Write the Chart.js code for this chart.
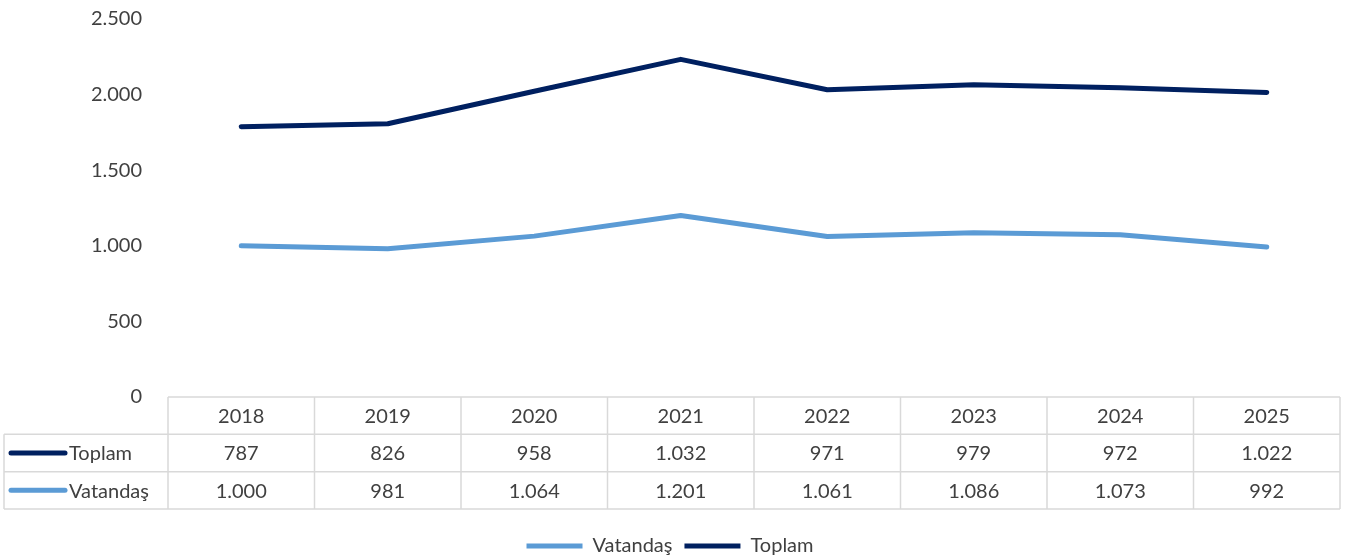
<!DOCTYPE html>
<html>
<head>
<meta charset="utf-8">
<script src="https://cdn.jsdelivr.net/npm/chart.js@4"></script>
<style>
    html, body { margin: 0; padding: 0; background: #fff; }
    #wrap { width: 1357px; height: 556px; position: relative; }
</style>
</head>
<body>
<div id="wrap"><canvas id="lineChart"></canvas></div>
<script>
// Chart data
const years = ['2018', '2019', '2020', '2021', '2022', '2023', '2024', '2025'];
const vatandas = [1000, 981, 1064, 1201, 1061, 1086, 1073, 992];
const toplam = [787, 826, 958, 1032, 971, 979, 972, 1022];
const yTicks = [0, 500, 1000, 1500, 2000, 2500];

const NAVY = '#002060';
const BLUE = '#5B9BD5';
const TEXT = '#404040';
const GRID = '#D9D9D9';
const FONT = 'Lato, "Open Sans", sans-serif';
const TABLE_H = 112;

// 1000 -> 1.000
function fmt(n) {
    return String(n).replace(/\B(?=(\d{3})+(?!\d))/g, '.');
}

// Data table drawn under the plot area, inside the x scale box
const dataTable = {
    id: 'dataTable',
    afterDraw(chart) {
        const ctx = chart.ctx;
        const x = chart.scales.x;
        const top = x.top;
        const rowH = TABLE_H / 3;
        const colW = (x.right - x.left) / years.length;
        const labelLeft = 4;

        const rows = [
            { name: 'Toplam', color: NAVY, values: toplam },
            { name: 'Vatandaş', color: BLUE, values: vatandas }
        ];

        ctx.save();
        ctx.strokeStyle = GRID;
        ctx.lineWidth = 1.5;

        // horizontal lines
        ctx.beginPath();
        ctx.moveTo(x.left, top);
        ctx.lineTo(x.right, top);
        for (let r = 1; r <= 3; r++) {
            ctx.moveTo(labelLeft, top + r * rowH);
            ctx.lineTo(x.right, top + r * rowH);
        }
        // vertical lines
        for (let c = 0; c <= years.length; c++) {
            ctx.moveTo(x.left + c * colW, top);
            ctx.lineTo(x.left + c * colW, top + 3 * rowH);
        }
        ctx.moveTo(labelLeft, top + rowH);
        ctx.lineTo(labelLeft, top + 3 * rowH);
        ctx.stroke();

        ctx.font = '20px ' + FONT;
        ctx.fillStyle = TEXT;
        ctx.textAlign = 'center';
        ctx.textBaseline = 'middle';

        years.forEach((y, i) => {
            ctx.fillText(y, x.getPixelForValue(i), top + rowH / 2 + 1);
        });

        rows.forEach((row, r) => {
            const cy = top + (r + 1.5) * rowH + 1;
            row.values.forEach((v, i) => {
                ctx.fillText(fmt(v), x.getPixelForValue(i), cy);
            });
            // legend key in the label cell
            ctx.strokeStyle = row.color;
            ctx.lineWidth = 5;
            ctx.lineCap = 'round';
            ctx.beginPath();
            ctx.moveTo(11, cy - 1);
            ctx.lineTo(65, cy - 1);
            ctx.stroke();
            ctx.textAlign = 'left';
            ctx.fillText(row.name, 69, cy);
            ctx.textAlign = 'center';
        });
        ctx.restore();
    }
};

const ctx = document.getElementById('lineChart').getContext('2d');
new Chart(ctx, {
    type: 'line',
    data: {
        labels: years,
        datasets: [{
            label: 'Vatandaş',
            data: vatandas,
            borderColor: BLUE,
            backgroundColor: BLUE,
            borderWidth: 5,
            borderCapStyle: 'round',
            borderJoinStyle: 'round',
            pointRadius: 0,
            tension: 0,
            fill: false
        }, {
            label: 'Toplam',
            data: toplam,
            borderColor: NAVY,
            backgroundColor: NAVY,
            borderWidth: 5,
            borderCapStyle: 'round',
            borderJoinStyle: 'round',
            pointRadius: 0,
            tension: 0,
            fill: false
        }]
    },
    options: {
        responsive: true,
        maintainAspectRatio: false,
        animation: false,
        layout: { padding: { top: 19, right: 17, left: 0, bottom: -10 } },
        plugins: {
            legend: {
                position: 'bottom',
                labels: {
                    usePointStyle: true,
                    pointStyle: 'line',
                    pointStyleWidth: 56,
                    color: TEXT,
                    font: { family: FONT, size: 20 },
                    padding: 12
                }
            },
            tooltip: { enabled: false }
        },
        scales: {
            x: {
                offset: true,
                grid: { display: false },
                border: { display: false },
                ticks: { display: false },
                afterFit(scale) { scale.height = 127; }
            },
            y: {
                stacked: true,
                min: 0,
                max: 2500,
                afterBuildTicks(scale) {
                    scale.ticks = yTicks.map(v => ({ value: v }));
                },
                afterFit(scale) {
                    scale.width = 168;
                    scale.paddingTop = 0;
                    scale.paddingBottom = 0;
                },
                grid: { display: false },
                border: { display: false },
                ticks: {
                    color: TEXT,
                    padding: 18,
                    font: { family: FONT, size: 20 },
                    callback: v => fmt(v)
                }
            }
        }
    },
    plugins: [dataTable]
});
</script>
</body>
</html>
